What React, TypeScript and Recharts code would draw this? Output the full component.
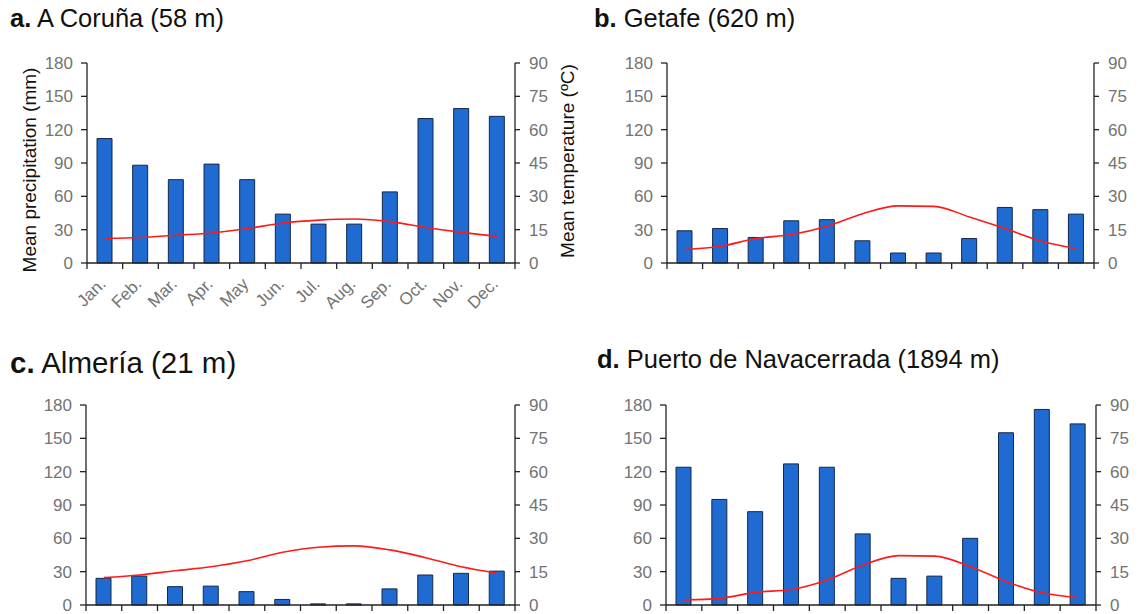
import React from 'react';
import { ComposedChart, Bar, Line, XAxis, YAxis } from 'recharts';

const months = ['Jan.', 'Feb.', 'Mar.', 'Apr.', 'May', 'Jun.', 'Jul.', 'Aug.', 'Sep.', 'Oct.', 'Nov.', 'Dec.'];

const precipTicks = [0, 30, 60, 90, 120, 150, 180];
const tempTicks = [0, 15, 30, 45, 60, 75, 90];

const coruniaPrecip = [112, 88, 75, 89, 75, 44, 35, 35, 64, 130, 139, 132];
const coruniaTemp = [11, 11.5, 12.5, 13.5, 15.5, 18, 19.3, 19.8, 18.6, 16, 13.8, 12];

const getafePrecip = [29, 31, 23, 38, 39, 20, 9, 9, 22, 50, 48, 44];
const getafeTemp = [6, 7.5, 11, 12.8, 16.5, 22.2, 25.7, 25.5, 20.7, 15.5, 9.9, 6.5];

const almeriaPrecip = [24, 26, 16.5, 17, 12, 5, 1, 1, 14.5, 27, 28.5, 30.5];
const almeriaTemp = [12.3, 13.5, 15.4, 17.2, 19.9, 23.7, 26, 26.6, 24.8, 21.3, 17.2, 14.3];

const navacerradaPrecip = [124, 95, 84, 127, 124, 64, 24, 26, 60, 155, 176, 163];
const navacerradaTemp = [2.3, 3, 5.7, 7, 11.3, 18, 22.2, 22, 17.2, 10.5, 5.5, 3.3];

const FONT = '"Liberation Sans", Arial, sans-serif';
const AXIS = '#222222';
const TICK_TEXT = '#737373';

function buildRows(precip: number[], temp: number[]) {
  return months.map((m, i) => ({ month: m, precip: precip[i], temp: temp[i] }));
}

// Excel-style tick marks between categories, optional slanted month labels
function MonthTick(props: any) {
  const { x, y, payload, index, showLabel, bandHalf } = props;
  const half = payload && payload.offset ? payload.offset : bandHalf;
  const bx = x - half;
  const lx = x + 2;
  const ly = y + 22;
  return (
    <g>
      <line x1={bx} y1={y} x2={bx} y2={y + 6} stroke={AXIS} strokeWidth={1.3} />
      {index === 11 && (
        <line x1={x + half} y1={y} x2={x + half} y2={y + 6} stroke={AXIS} strokeWidth={1.3} />
      )}
      {showLabel && (
        <text
          x={lx}
          y={ly}
          transform={`rotate(-45, ${lx}, ${ly})`}
          textAnchor="end"
          fill={TICK_TEXT}
          fontSize={17}
          fontFamily={FONT}
        >
          {payload.value}
        </text>
      )}
    </g>
  );
}

interface PanelProps {
  letter: string;
  name: string;
  titleSize: number;
  titleLeft: number;
  titleTop: number;
  precip: number[];
  temp: number[];
  left: number;
  top: number;
  width: number;
  height: number;
  margin: { top: number; right: number; bottom: number; left: number };
  rightWidth: number;
  xHeight: number;
  showMonths?: boolean;
}

function ClimatePanel(p: PanelProps) {
  const data = buildRows(p.precip, p.temp);
  const plotW = p.width - p.margin.left - p.margin.right - 60 - p.rightWidth;
  return (
    <>
      <div
        style={{
          position: 'absolute',
          left: p.titleLeft,
          top: p.titleTop,
          fontFamily: FONT,
          fontSize: p.titleSize,
          lineHeight: `${p.titleSize}px`,
          color: '#111',
          whiteSpace: 'nowrap',
        }}
      >
        <b>{p.letter}</b> {p.name}
      </div>
      <div style={{ position: 'absolute', left: p.left, top: p.top }}>
        <ComposedChart width={p.width} height={p.height} data={data} margin={p.margin}>
          <XAxis
            dataKey="month"
            xAxisId="m"
            height={p.xHeight}
            axisLine={{ stroke: AXIS, strokeWidth: 1.3 }}
            tickLine={false}
            tickSize={0}
            tickMargin={0}
            interval={0}
            tick={<MonthTick showLabel={!!p.showMonths} bandHalf={plotW / 24} />}
          />
          <YAxis
            yAxisId="p"
            width={60}
            domain={[0, 180]}
            ticks={precipTicks}
            interval={0}
            axisLine={{ stroke: AXIS, strokeWidth: 1.3 }}
            tickLine={{ stroke: AXIS, strokeWidth: 1.3 }}
            tickSize={6}
            tickMargin={8}
            tick={{ fill: TICK_TEXT, fontSize: 17, fontFamily: FONT }}
          />
          <YAxis
            yAxisId="t"
            orientation="right"
            width={p.rightWidth}
            domain={[0, 90]}
            ticks={tempTicks}
            interval={0}
            axisLine={{ stroke: AXIS, strokeWidth: 1.3 }}
            tickLine={{ stroke: AXIS, strokeWidth: 1.3 }}
            tickSize={5}
            tickMargin={9}
            tick={{ fill: TICK_TEXT, fontSize: 17, fontFamily: FONT }}
          />
          <Bar
            dataKey="precip"
            xAxisId="m"
            yAxisId="p"
            barSize={15}
            fill="#1f6bd2"
            stroke="#142848"
            strokeWidth={1}
            isAnimationActive={false}
          />
          <Line
            dataKey="temp"
            xAxisId="m"
            yAxisId="t"
            type="monotone"
            stroke="#ff1a1a"
            strokeWidth={1.6}
            dot={false}
            isAnimationActive={false}
          />
        </ComposedChart>
      </div>
    </>
  );
}

function AxisTitle({ text, x, y }: { text: string; x: number; y: number }) {
  return (
    <div
      style={{
        position: 'absolute',
        left: x,
        top: y,
        transform: 'translate(-50%, -50%) rotate(-90deg)',
        fontFamily: FONT,
        fontSize: 19,
        color: '#111',
        whiteSpace: 'nowrap',
      }}
    >
      {text}
    </div>
  );
}

export default function App() {
  return (
    <div style={{ position: 'absolute', left: 0, top: 0, width: 1143, height: 614, background: '#fff', overflow: 'hidden' }}>
      <style>{'body{margin:0;overflow:hidden;}'}</style>
      <ClimatePanel
        letter="a."
        name="A Coruña (58 m)"
        titleSize={25.5}
        titleLeft={10}
        titleTop={6}
        precip={coruniaPrecip}
        temp={coruniaTemp}
        left={0}
        top={0}
        width={580}
        height={320}
        margin={{ top: 63, right: 15, bottom: 7, left: 27 }}
        rightWidth={50}
        xHeight={50}
        showMonths
      />
      <AxisTitle text="Mean precipitation (mm)" x={30} y={170} />
      <AxisTitle text="Mean temperature (ºC)" x={568} y={161} />
      <ClimatePanel
        letter="b."
        name="Getafe (620 m)"
        titleSize={25.5}
        titleLeft={594}
        titleTop={6}
        precip={getafePrecip}
        temp={getafeTemp}
        left={580}
        top={0}
        width={563}
        height={320}
        margin={{ top: 63, right: 4, bottom: 7, left: 27 }}
        rightWidth={45}
        xHeight={50}
      />
      <ClimatePanel
        letter="c."
        name="Almería (21 m)"
        titleSize={29.5}
        titleLeft={10}
        titleTop={348}
        precip={almeriaPrecip}
        temp={almeriaTemp}
        left={0}
        top={320}
        width={580}
        height={294}
        margin={{ top: 85, right: 15, bottom: 4, left: 26 }}
        rightWidth={50}
        xHeight={5}
      />
      <ClimatePanel
        letter="d."
        name="Puerto de Navacerrada (1894 m)"
        titleSize={25.5}
        titleLeft={597}
        titleTop={347}
        precip={navacerradaPrecip}
        temp={navacerradaTemp}
        left={580}
        top={320}
        width={563}
        height={294}
        margin={{ top: 85, right: 2, bottom: 4, left: 26 }}
        rightWidth={45}
        xHeight={5}
      />
    </div>
  );
}
